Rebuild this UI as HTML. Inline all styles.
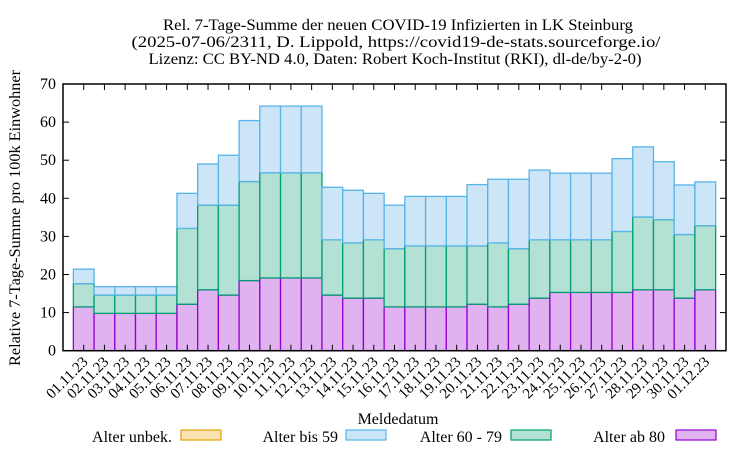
<!DOCTYPE html>
<html><head><meta charset="utf-8"><style>
body{margin:0;background:#fff}
svg{display:block;font-family:"Liberation Serif",serif}
</style></head><body>
<svg id="chart" width="750" height="450" xmlns="http://www.w3.org/2000/svg">
<g font-size="16" text-anchor="middle" fill="#000">
<text x="398" y="30" textLength="470" lengthAdjust="spacingAndGlyphs">Rel. 7-Tage-Summe der neuen COVID-19 Infizierten in LK Steinburg</text>
<text x="396" y="47" textLength="529" lengthAdjust="spacingAndGlyphs">(2025-07-06/2311, D. Lippold, https://covid19-de-stats.sourceforge.io/</text>
<text x="395" y="64" textLength="493" lengthAdjust="spacingAndGlyphs">Lizenz: CC BY-ND 4.0, Daten: Robert Koch-Institut (RKI), dl-de/by-2-0)</text>
</g>
<text font-size="16" text-anchor="middle" transform="translate(20,218) rotate(-90)" textLength="296" lengthAdjust="spacingAndGlyphs">Relative 7-Tage-Summe pro 100k Einwohner</text>
<text font-size="16" text-anchor="middle" x="398" y="424">Meldedatum</text>
<g id="bars"></g>
<g id="axes"></g>
<g font-size="16" text-anchor="end">
<g><text x="172" y="442">Alter unbek.</text><rect x="181" y="430" width="40" height="10" fill="#fbe3b3" stroke="#e69f00" stroke-width="1.2"/></g>
<g><text x="338" y="442">Alter bis 59</text><rect x="346" y="430" width="40" height="10" fill="#cce6f8" stroke="#56b4e9" stroke-width="1.2"/></g>
<g><text x="502" y="442">Alter 60 - 79</text><rect x="511" y="430" width="40" height="10" fill="#b3e2d4" stroke="#009e73" stroke-width="1.2"/></g>
<g><text x="665" y="442">Alter ab 80</text><rect x="676" y="430" width="40" height="10" fill="#e0b3f0" stroke="#9400d3" stroke-width="1.2"/></g>
</g>
</svg>
<script>
const categories = ["01.11.23","02.11.23","03.11.23","04.11.23","05.11.23","06.11.23","07.11.23","08.11.23","09.11.23","10.11.23","11.11.23","12.11.23","13.11.23","14.11.23","15.11.23","16.11.23","17.11.23","18.11.23","19.11.23","20.11.23","21.11.23","22.11.23","23.11.23","24.11.23","25.11.23","26.11.23","27.11.23","28.11.23","29.11.23","30.11.23","01.12.23"];
const ab80 = [11.5,9.8,9.8,9.8,9.8,12.2,16.0,14.6,18.4,19.1,19.1,19.1,14.6,13.8,13.8,11.5,11.5,11.5,11.5,12.2,11.5,12.2,13.8,15.3,15.3,15.3,15.3,16.0,16.0,13.8,16.0];
const a6079 = [6.1,4.8,4.8,4.8,4.8,19.9,22.2,23.6,26.0,27.6,27.6,27.6,14.5,14.5,15.3,15.3,16.0,16.0,16.0,15.3,16.8,14.6,15.3,13.8,13.8,13.8,16.0,19.1,18.4,16.7,16.8];
const bis59 = [3.8,2.2,2.2,2.2,2.2,9.2,10.8,13.1,16.0,17.5,17.5,17.5,13.8,13.8,12.2,11.4,13.0,13.0,13.0,16.1,16.7,18.2,18.3,17.5,17.5,17.5,19.1,18.4,15.2,13.0,11.5];
const unbek = [0,0,0,0,0,0,0,0,0,0,0,0,0,0,0,0,0,0,0,0,0,0,0,0,0,0,0,0,0,0,0];
const yTicks = [0,10,20,30,40,50,60,70];

const NS="http://www.w3.org/2000/svg";
const L=63,R=726,T=84,B=350.7;
const xMin=-1,xMax=31,yMax=70;
const X=v=>L+(v-xMin)/(xMax-xMin)*(R-L);
const Y=v=>B-v/yMax*(B-T);
function mk(tag,attrs,parent){const e=document.createElementNS(NS,tag);for(const k in attrs)e.setAttribute(k,attrs[k]);parent.appendChild(e);return e;}
const bars=document.getElementById('bars'), axes=document.getElementById('axes');
const series=[[ab80,"#e0b3f0","#9400d3","ab80"],[a6079,"#b3e2d4","#009e73","60-79"],[bis59,"#cce6f8","#56b4e9","bis59"],[unbek,"#fbe3b3","#e69f00","unbek"]];
categories.forEach((c,i)=>{
  let base=0;
  series.forEach(s=>{
    const v=s[0][i];
    if(v>0){
      const r=mk('rect',{x:X(i-0.5),y:Y(base+v),width:X(i+0.5)-X(i-0.5),height:Y(base)-Y(base+v),fill:s[1],stroke:s[2],'stroke-width':1.3},bars);
      
      
    }
    base+=v;
  });
  mk('line',{x1:X(i),x2:X(i),y1:B,y2:B-6,stroke:'#000'},axes);
  mk('line',{x1:X(i),x2:X(i),y1:T,y2:T+6,stroke:'#000'},axes);
  const t=mk('text',{x:X(i)+5,y:B+12,'font-size':15,'text-anchor':'end',transform:`rotate(-45 ${X(i)+5} ${B+12})`},axes);
  t.textContent=c;
  
  
});
yTicks.forEach(v=>{
  mk('line',{x1:L,x2:L+6,y1:Y(v),y2:Y(v),stroke:'#000'},axes);
  mk('line',{x1:R,x2:R-6,y1:Y(v),y2:Y(v),stroke:'#000'},axes);
  const t=mk('text',{x:L-7,y:Y(v)+5,'font-size':16,'text-anchor':'end'},axes);
  t.textContent=v;
  
  
});
const f=mk('rect',{x:L,y:T,width:R-L,height:B-T,fill:'none',stroke:'#000','stroke-width':1.5},axes);


</script>
</body></html>
